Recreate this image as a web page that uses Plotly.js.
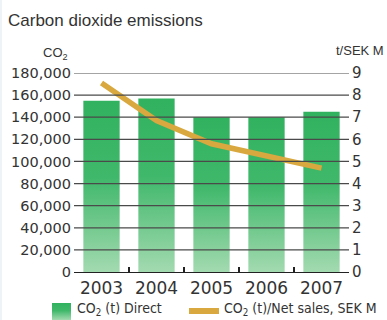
<!DOCTYPE html>
<html><head><meta charset="utf-8">
<script src="https://cdn.plot.ly/plotly-3.0.1.min.js"></script>
<style>html,body{margin:0;padding:0;background:#fff;} #chart{width:387px;height:320px;}</style>
</head><body><div id="chart"></div>
<script>
const years = ['2003','2004','2005','2006','2007'];
const co2Direct = [155000, 157000, 140000, 140000, 145000];
const co2PerSales = [8.55, 6.85, 5.8, 5.25, 4.7];
const leftTicks = [0,20000,40000,60000,80000,100000,120000,140000,160000,180000];
const leftTickText = ['0','20,000','40,000','60,000','80,000','100,000','120,000','140,000','160,000','180,000'];
const rightTicks = [0,1,2,3,4,5,6,7,8,9];

const txt = '#333333';
const green = '#3cb467';
const gold = '#d9a83f';
const fSans = '"Liberation Sans", Arial, sans-serif';
const fNarrow = '"Liberation Sans Narrow", "DejaVu Sans Condensed", "Liberation Sans", Arial, sans-serif';
const fTick = '"DejaVu Sans", sans-serif';

const data = [
  {type:'bar', x: years, y: co2Direct, width: 0.66, marker:{color: green, line:{width:0}},
   name:'CO<sub>2</sub> (t) Direct', hoverinfo:'skip'},
  {type:'scatter', mode:'lines', x: years, y: co2PerSales, yaxis:'y2',
   line:{color: gold, width:5.5}, name:'CO<sub>2</sub> (t)/Net sales, SEK M', hoverinfo:'skip'}
];

// horizontal gridlines placed through the left y scale
const gridShapes = leftTicks.slice(1).map(function(v){
  return {type:'line', xref:'paper', yref:'y', x0:0, x1:1, y0:v, y1:v,
          line:{color:'#4a4a4a', width:1.2}, layer:'above'};
});

const layout = {
  width:387, height:320,
  margin:{l:74, r:38, t:73, b:48},
  paper_bgcolor:'#ffffff', plot_bgcolor:'#ffffff',
  showlegend:false,
  font:{family:fSans, color: txt},
  title:{text:'Carbon dioxide emissions', x:8/387, xanchor:'left', xref:'container',
         y:1-20/320, yanchor:'middle', yref:'container',
         font:{family:fSans, size:17, color: txt}},
  xaxis:{type:'category', range:[-0.5,4.5], showgrid:false, zeroline:false,
         showline:true, linecolor:'#222', linewidth:1.3, layer:'above traces',
         tickson:'boundaries', ticks:'inside', ticklen:5, tickcolor:'#222', tickwidth:1.3,
         tickfont:{family:fTick, size:17, color: txt}},
  yaxis:{range:[0,180000], tickvals:leftTicks, ticktext:leftTickText,
         showgrid:false, zeroline:false, showline:false,
         ticks:'', ticklabelstandoff:2,
         tickfont:{family:fTick, size:14.5, color: txt}},
  yaxis2:{overlaying:'y', side:'right', range:[0,9], tickvals:rightTicks,
          showgrid:false, zeroline:false, showline:false, ticks:'', ticklabelstandoff:2,
          tickfont:{family:fTick, size:15, color: txt}},
  annotations:[
    {text:'CO<sub>2</sub>', xref:'paper', yref:'paper', x:(41-74)/275, y:(272-54)/199,
     xanchor:'left', yanchor:'middle', showarrow:false,
     font:{family:fSans, size:13, color: txt}},
    {text:'t/SEK M', xref:'paper', yref:'paper', x:(386-74)/275, y:(272-51)/199,
     xanchor:'right', yanchor:'middle', showarrow:false,
     font:{family:fSans, size:13, color: txt}},
    {text:'CO<sub>2</sub> (t) Direct', xref:'paper', yref:'paper', x:(75-74)/275, y:(272-309)/199,
     xanchor:'left', yanchor:'middle', showarrow:false,
     font:{family:fNarrow, size:14, color: txt}},
    {text:'CO<sub>2</sub> (t)/Net sales, SEK M', xref:'paper', yref:'paper', x:(222-74)/275, y:(272-309)/199,
     xanchor:'left', yanchor:'middle', showarrow:false,
     font:{family:fNarrow, size:14, color: txt}}
  ],
  shapes: gridShapes.concat([
    {type:'rect', xref:'paper', yref:'paper', x0:(52-74)/275, x1:(71-74)/275,
     y0:(272-320)/199, y1:(272-303)/199, fillcolor:'#3cb468', line:{width:0}},
    {type:'line', xref:'paper', yref:'paper', x0:(189-74)/275, x1:(219-74)/275,
     y0:(272-311)/199, y1:(272-311)/199, line:{color: gold, width:6}},
    {type:'rect', xref:'paper', yref:'paper', x0:-74/275, x1:-72/275, y0:-48/199, y1:1+73/199,
     fillcolor:'#eef3f8', line:{width:0}}
  ])
};

Plotly.newPlot('chart', data, layout, {displayModeBar:false, staticPlot:true}).then(function(gd){
  const svg = gd.querySelector('svg.main-svg');
  const ns = 'http://www.w3.org/2000/svg';
  let defs = svg.querySelector('defs');
  if(!defs){ defs = document.createElementNS(ns,'defs'); svg.insertBefore(defs, svg.firstChild); }
  const grad = document.createElementNS(ns,'linearGradient');
  grad.setAttribute('id','barGrad');
  grad.setAttribute('x1','0'); grad.setAttribute('y1','0');
  grad.setAttribute('x2','0'); grad.setAttribute('y2','1');
  [['0','#31b25f'],['0.45','#40b86b'],['1','#a3dab0']].forEach(function(s){
    const st = document.createElementNS(ns,'stop');
    st.setAttribute('offset', s[0]); st.setAttribute('stop-color', s[1]);
    grad.appendChild(st);
  });
  defs.appendChild(grad);
  gd.querySelectorAll('.barlayer .point path').forEach(function(p){ p.style.fill = 'url(#barGrad)'; });
  gd.querySelectorAll('.shapelayer path').forEach(function(p){
    const f = p.style.fill || '';
    if(f.indexOf('60, 180, 104') >= 0 || f === '#3cb468') p.style.fill = 'url(#barGrad)';
  });
  // keep the ratio line drawn over the gridlines
  const line = gd.querySelector('.scatterlayer .trace');
  if(line){
    const plotG = line.closest('.plot');
    if(plotG){
      const g = document.createElementNS(ns,'g');
      g.setAttribute('transform', plotG.getAttribute('transform') || '');
      g.appendChild(line);
      svg.appendChild(g);
    }
  }
});
</script>
</body></html>
